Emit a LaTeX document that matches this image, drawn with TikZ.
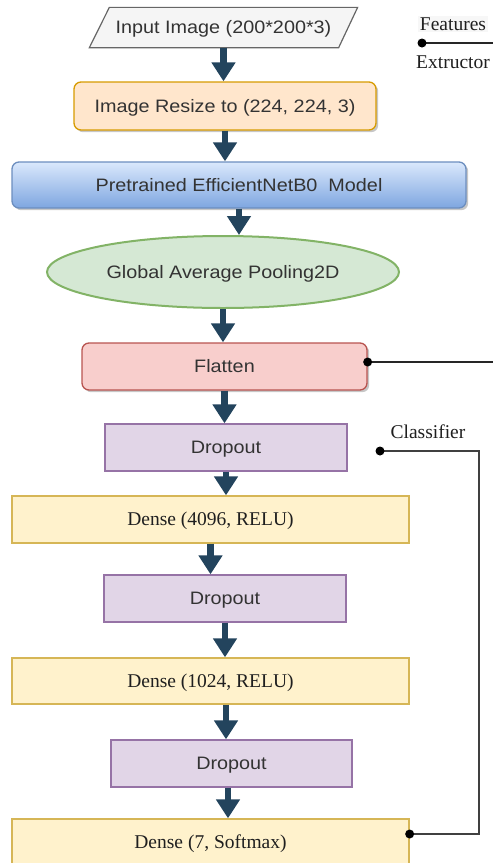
\documentclass[tikz,border=0pt]{standalone}
\usepackage{fontspec}
\setmainfont{Liberation Serif}
\newfontfamily\boxsans[FakeStretch=1.1]{Liberation Sans}
\usetikzlibrary{arrows.meta,shadows,shapes.geometric,backgrounds}

\definecolor{arrowblue}{HTML}{23445D}
\definecolor{textgray}{HTML}{333333}
\definecolor{inputfill}{HTML}{F5F5F5}
\definecolor{inputline}{HTML}{666666}
\definecolor{resizefill}{HTML}{FFE6CC}
\definecolor{resizeline}{HTML}{D79B00}
\definecolor{bluetop}{HTML}{DAE8FC}
\definecolor{bluebottom}{HTML}{7EA6E0}
\definecolor{blueline}{HTML}{6C8EBF}
\definecolor{greenfill}{HTML}{D5E8D4}
\definecolor{greenline}{HTML}{82B366}
\definecolor{redfill}{HTML}{F8CECC}
\definecolor{redline}{HTML}{B85450}
\definecolor{purplefill}{HTML}{E1D5E7}
\definecolor{purpleline}{HTML}{9673A6}
\definecolor{yellowfill}{HTML}{FFF2CC}
\definecolor{yellowline}{HTML}{D6B656}

\begin{document}
\begin{tikzpicture}[x=1pt,y=-1pt,
  box/.style={draw, line width=1.3pt, inner sep=0pt, align=center,
              text height=12.9pt, text depth=0pt},
  sanslabel/.style={font=\boxsans\fontsize{18}{20}\selectfont, text=textgray},
  seriflabel/.style={font=\fontsize{19.5}{22}\selectfont, text=black!88},
  softshadow/.style={drop shadow={shadow xshift=2.2pt, shadow yshift=-2.2pt, opacity=0.22, fill=black}},
  roundbox/.style={box, rounded corners=7pt, softshadow},
  dropbox/.style={box, fill=purplefill, draw=purpleline, sanslabel},
  densebox/.style={box, fill=yellowfill, draw=yellowline, seriflabel},
  flowarrow/.style={draw=arrowblue, line width=6.5pt, -{Triangle[width=23pt,length=19pt]}},
  link/.style={draw=black!85, line width=1.3pt},
  dot/.style={circle, fill=black, inner sep=0pt, minimum size=9pt}
]
\useasboundingbox (0,0) rectangle (493,863);

% main pipeline
\node[box, draw=none, sanslabel, minimum width=267, minimum height=39] (input) at (223.5,27.5) {Input Image (200*200*3)};
\begin{scope}[on background layer]
  \draw[fill=inputfill, draw=inputline, line width=1.2pt]
    ([xshift=20pt]input.north west) -- (input.north east)
    -- ([xshift=-19pt]input.south east) -- (input.south west) -- cycle;
\end{scope}

\node[roundbox, fill=resizefill, draw=resizeline, sanslabel, minimum width=302, minimum height=48] (resize) at (225,106) {Image Resize to (224, 224, 3)};

\node[roundbox, top color=bluetop, bottom color=bluebottom, draw=blueline, sanslabel, minimum width=454, minimum height=46] (pretrained) at (239,185) {Pretrained EfficientNetB0\ \ Model};

\node[box, ellipse, fill=greenfill, draw=greenline, line width=2pt, sanslabel, minimum width=352, minimum height=72] (pool) at (223,272) {Global Average Pooling2D};

\node[roundbox, fill=redfill, draw=redline, sanslabel, minimum width=285, minimum height=47] (flatten) at (224.5,366.5) {Flatten};

\node[dropbox, minimum width=242, minimum height=47] (drop1) at (226,447.5) {Dropout};
\node[densebox, minimum width=397, minimum height=47] (dense1) at (210.5,519.5) {Dense (4096, RELU)};
\node[dropbox, minimum width=242, minimum height=47] (drop2) at (225,598.5) {Dropout};
\node[densebox, minimum width=397, minimum height=46] (dense2) at (210.5,681) {Dense (1024, RELU)};
\node[dropbox, minimum width=241, minimum height=47] (drop3) at (231.5,763.5) {Dropout};
\node[densebox, minimum width=397, minimum height=47] (dense3) at (210.5,842.5) {Dense (7, Softmax)};

% flow arrows
\draw[flowarrow] (input.south) -- (input.south |- resize.north);
\draw[flowarrow] (resize.south) -- (resize.south |- pretrained.north);
\draw[flowarrow] (pretrained.south) -- (pretrained.south |- pool.north);
\draw[flowarrow] (pool.south) -- (pool.south |- flatten.north);
\draw[flowarrow] (flatten.south) -- (flatten.south |- drop1.north);
\draw[flowarrow] (drop1.south) -- (drop1.south |- dense1.north);
\draw[flowarrow] (dense1.south) -- (dense1.south |- drop2.north);
\draw[flowarrow] (drop2.south) -- (drop2.south |- dense2.north);
\draw[flowarrow] ([xshift=15.5pt]dense2.south) -- ([xshift=15.5pt]dense2.south |- drop3.north);
\draw[flowarrow] ([xshift=-3.5pt]drop3.south) -- ([xshift=-3.5pt]drop3.south |- dense3.north);

% section labels: feature extractor
\node[seriflabel, fill=black!3, inner sep=1.5pt] (featlabel) at (453,24) {Features};
\node[seriflabel, inner sep=1pt] (extlabel) at (453,62) {Extructor};
\coordinate (featdot) at (422,43);
\coordinate (featend) at (493,43);
\draw[link] (featdot) -- (featend);
\node[dot] at (featdot) {};

\coordinate (flatdot) at ([yshift=4.5pt]flatten.east);
\coordinate (flatend) at (493,362);
\draw[link] (flatdot) -- (flatend);
\node[dot] at (flatdot) {};

% section labels: classifier
\node[seriflabel, inner sep=1pt] (clslabel) at (428,432) {Classifier};
\coordinate (clsdot) at (380,451);
\coordinate (clscorner) at (479,451);
\coordinate (densedot) at ([yshift=8.5pt]dense3.east);
\draw[link, draw=black!75] (clsdot) -- (clscorner) |- (densedot);
\node[dot] at (clsdot) {};
\node[dot] at (densedot) {};
\end{tikzpicture}
\end{document}
